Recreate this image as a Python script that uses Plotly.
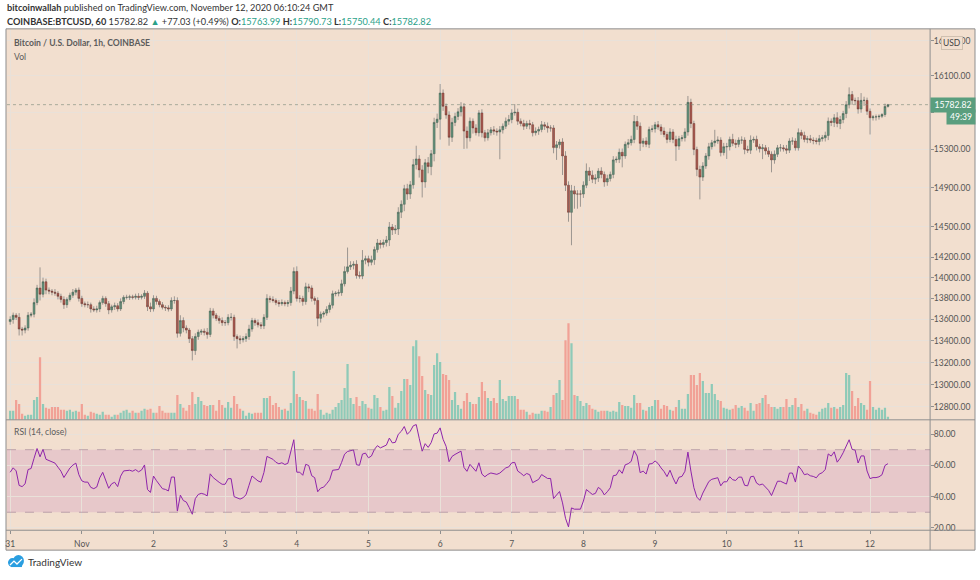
import math
import plotly.graph_objects as go
from datetime import datetime, timedelta

# ---------------- data ----------------
first_open = 13580
closes = [
    13600,13640,13620,13510,13500,13520,13640,13650,13760,13900,13840,13960,13880,13870,13860,13850,13820,13790,13740,13790,13830,13860,13880,13800,
    13750,13740,13740,13700,13690,13700,13760,13800,13750,13690,13720,13730,13700,13770,13810,13810,13815,13810,13820,13810,13820,13850,13720,13700,
    13800,13770,13740,13715,13710,13700,13780,13780,13470,13590,13520,13500,13420,13310,13440,13480,13490,13480,13460,13680,13640,13610,13590,13570,
    13570,13620,13620,13440,13420,13410,13420,13440,13510,13590,13570,13550,13540,13620,13800,13790,13780,13760,13750,13760,13750,13760,13870,14060,
    13800,13800,13770,13911,13900,13800,13780,13611,13650,13660,13695,13735,13845,13850,13855,13940,14060,14105,14120,14130,14020,14015,14170,14185,
    14150,14175,14275,14340,14325,14345,14370,14500,14470,14480,14650,14730,14890,14835,14930,15140,15200,15085,14960,15160,15120,15255,15590,15625,
    15910,15765,15670,15430,15590,15655,15705,15760,15496,15425,15603,15530,15479,15693,15479,15425,15479,15510,15496,15487,15510,15549,15603,15621,
    15693,15700,15603,15578,15549,15578,15565,15479,15496,15514,15565,15549,15530,15530,15320,15350,15380,15232,14926,14648,14869,14835,14835,14835,
    14926,15073,15030,14988,15000,15073,15038,14960,14995,15038,15190,15197,15270,15232,15355,15372,15407,15600,15549,15365,15390,15355,15514,15520,
    15565,15540,15496,15460,15407,15487,15407,15336,15415,15425,15487,15808,15578,15300,15090,15010,15126,15232,15330,15372,15390,15400,15267,15330,
    15330,15407,15365,15355,15400,15400,15300,15293,15400,15407,15330,15308,15318,15285,15250,15190,15250,15318,15318,15308,15293,15390,15390,15318,
    15480,15450,15407,15415,15400,15395,15385,15415,15425,15450,15603,15590,15640,15578,15621,15686,15782,15893,15830,15826,15735,15830,15830,15711,
    15640,15650,15650,15657,15675,15763.99,15782.82,
]
wick_hi = [
    30,25,20,40,20,25,30,20,40,30,200,40,30,25,20,30,20,25,30,20,25,30,20,25,
    25,20,30,20,25,30,20,25,20,25,20,30,25,30,20,25,20,20,25,30,20,30,20,40,
    30,25,20,25,20,25,30,40,30,50,30,25,20,25,30,25,20,25,40,30,25,20,25,30,
    25,30,40,25,20,30,25,30,40,25,20,30,25,30,40,25,30,20,25,30,20,25,40,40,
    50,30,25,40,30,25,20,30,25,20,30,25,30,20,30,40,50,190,40,30,40,40,100,30,
    30,40,30,40,30,30,40,50,30,40,50,40,40,50,40,60,140,40,50,40,60,40,50,60,
    100,40,30,40,50,40,40,50,40,50,40,30,40,30,40,30,40,30,40,30,40,30,40,50,
    40,90,40,30,40,30,40,30,40,30,40,30,40,30,30,40,30,40,50,40,60,50,40,40,
    40,80,40,50,40,30,40,30,40,30,40,30,40,40,30,40,40,70,60,40,30,40,30,40,
    30,40,30,40,30,40,30,40,30,30,40,70,40,30,30,40,40,30,40,30,120,40,30,40,
    40,30,60,40,30,40,30,40,50,30,40,30,40,30,40,30,40,30,40,30,40,30,40,30,
    45,30,40,30,40,30,30,40,30,40,40,30,40,60,40,30,40,80,40,30,40,80,40,30,
    30,20,25,20,15,30,7.91,
]
wick_lo = [
    30,40,25,60,50,30,25,20,30,25,60,30,40,30,30,25,30,30,40,30,20,25,30,30,
    30,25,30,35,20,25,30,20,30,40,25,30,25,20,25,20,25,20,20,25,20,25,40,30,
    25,30,25,20,30,25,20,30,40,30,40,30,40,90,40,30,25,30,40,25,30,25,30,30,
    30,25,30,40,90,40,25,30,30,25,30,25,30,30,25,30,20,25,30,20,25,30,30,30,
    30,40,40,30,40,30,40,75,40,30,25,30,30,25,30,30,25,20,30,40,30,25,30,40,
    40,30,50,30,40,30,40,60,50,40,60,60,70,60,50,40,50,80,160,60,70,90,80,60,
    220,50,40,90,50,40,40,50,190,115,40,60,30,40,50,40,30,30,40,40,290,40,30,40,
    40,30,40,30,40,30,50,40,30,40,30,40,50,40,60,130,40,200,60,95,330,150,150,130,
    40,30,60,40,50,40,40,50,40,30,40,30,40,120,30,40,30,40,40,80,40,30,40,30,
    40,30,40,30,40,30,40,156,40,30,40,40,50,60,70,230,40,30,40,30,40,30,40,30,
    130,40,30,40,30,40,50,30,40,30,40,40,110,40,30,130,40,30,40,30,40,30,40,30,
    30,40,30,40,30,40,30,40,30,40,50,40,50,40,60,40,50,40,50,40,50,40,60,40,
    180,30,40,30,20,25,13.55,
]
volume = [
    9,9,20,16,6,4,5,5,20,23,63,16,12,11,13,13,13,10,10,9,10,8,9,8,
    16,5,4,8,7,6,5,8,5,5,3,5,5,7,9,10,7,9,7,7,9,11,10,11,
    7,7,14,9,7,7,7,7,25,16,12,9,15,28,16,23,19,15,14,15,15,9,20,15,
    12,18,12,24,16,11,9,4,7,6,7,7,7,22,22,24,15,17,13,10,11,9,17,49,
    26,23,20,19,11,11,9,26,10,5,7,6,10,13,17,20,32,56,22,16,23,14,19,16,
    12,11,25,22,13,9,10,33,24,12,17,29,41,41,35,74,80,64,44,30,26,25,55,67,
    58,46,45,40,20,28,15,11,19,27,18,16,16,23,38,29,22,19,22,17,40,21,19,24,
    24,24,21,10,10,8,5,7,6,6,9,9,8,13,25,27,40,20,80,97,77,25,24,19,
    14,17,15,11,10,8,9,9,9,8,9,8,18,15,14,14,12,25,17,17,10,9,13,14,
    20,20,11,15,14,10,9,13,20,11,11,26,45,45,35,47,39,27,27,36,26,20,19,12,
    11,10,11,15,12,14,12,9,17,9,16,17,22,25,16,13,13,11,13,13,21,13,15,22,
    13,16,9,11,7,6,5,8,11,12,17,12,13,11,13,15,47,45,29,14,22,17,15,10,
    39,13,10,12,10,12,3,
]
# RSI(14, close) state at the left edge of the picture (reads about 55 there)
rsi_seed_gain = 25.0
rsi_seed_loss = 20.0
price_ticks = [12800, 13000, 13200, 13400, 13600, 13800, 14000, 14200, 14500, 14900, 15300, 15700, 16100, 16500]
price_labels = ["12800.00", "13000.00", "13200.00", "13400.00", "13600.00", "13800.00", "14000.00",
                "14200.00", "14500.00", "14900.00", "15300.00", "", "16100.00", "16500.00"]
rsi_ticks = [20, 40, 60, 80]
day_ticks = ["2020-10-31", "2020-11-01", "2020-11-02", "2020-11-03", "2020-11-04", "2020-11-05", "2020-11-06",
             "2020-11-07", "2020-11-08", "2020-11-09", "2020-11-10", "2020-11-11", "2020-11-12"]
day_labels = ["31", "Nov", "2", "3", "4", "5", "6", "7", "8", "9", "10", "11", "12"]
last_price = 15782.82

# ---------------- derived ----------------
n = len(closes)
t0 = datetime(2020, 10, 31, 0, 0)
times = [t0 + timedelta(hours=i) for i in range(n)]
opens = [first_open] + closes[:-1]
opens[-1] = 15763.99
body_hi = [max(o, c) for o, c in zip(opens, closes)]
body_lo = [min(o, c) for o, c in zip(opens, closes)]
highs = [b + w for b, w in zip(body_hi, wick_hi)]
lows = [b - w for b, w in zip(body_lo, wick_lo)]

def rsi_calc(c, period=14):
    ag, al = rsi_seed_gain, rsi_seed_loss
    out = [100 - 100 / (1 + ag / al)]
    for i in range(1, len(c)):
        d = c[i] - c[i - 1]
        ag = ag + (max(d, 0) - ag) / period
        al = al + (max(-d, 0) - al) / period
        out.append(100.0 if al == 0 else 100 - 100 / (1 + ag / al))
    return out

rsi = rsi_calc(closes)

W, H = 980, 580
def X(px): return px / W
def Y(py): return 1 - py / H

LEFT, RIGHT = 5, 930
TOP, SEP, BOT = 30, 422, 533
BG = "#f2dfcf"
GRID = "#e9e1d9"
TXT = "#555555"
UP_BODY, UP_LINE = "#5ea985", "#2a4a3a"
DN_BODY, DN_LINE = "#d2493a", "#5a2118"
FONT = "Lato"

fig = go.Figure()

# volume (base axis, drawn first)
vcol = ["#8ecab8" if c >= o else "#f1a196" for o, c in zip(opens, closes)]
fig.add_trace(go.Bar(x=times, y=volume, marker=dict(color=vcol, line=dict(width=0)),
                     xaxis="x", yaxis="y", hoverinfo="skip", showlegend=False))

# wicks
wx, wy = [], []
for t, lo, hi in zip(times, lows, highs):
    wx += [t, t, None]
    wy += [lo, hi, None]
fig.add_trace(go.Scatter(x=wx, y=wy, mode="lines", line=dict(color="rgba(110,110,110,0.65)", width=1),
                         xaxis="x", yaxis="y2", hoverinfo="skip", showlegend=False))

# candle bodies
fig.add_trace(go.Candlestick(x=times, open=opens, high=body_hi, low=body_lo, close=closes,
                             increasing=dict(fillcolor=UP_BODY, line=dict(color=UP_LINE, width=0.45)),
                             decreasing=dict(fillcolor=DN_BODY, line=dict(color=DN_LINE, width=0.45)),
                             whiskerwidth=0, xaxis="x", yaxis="y2", hoverinfo="skip", showlegend=False))

# RSI
fig.add_trace(go.Scatter(x=times, y=rsi, mode="lines", line=dict(color="#8e24aa", width=1),
                         xaxis="x2", yaxis="y3", hoverinfo="skip", showlegend=False))

xr = ["2020-10-30 22:56", "2020-11-12 20:07"]
log_lo, log_hi = 4.10334, 4.22070

shapes = [
    dict(type="rect", xref="paper", yref="paper", x0=X(4), x1=X(975), y0=Y(553), y1=Y(29),
         fillcolor=BG, line=dict(color="#8f8f8f", width=1), layer="below"),
    dict(type="line", xref="paper", yref="paper", x0=X(RIGHT), x1=X(RIGHT), y0=Y(553), y1=Y(29),
         line=dict(color="#8f8f8f", width=1)),
    dict(type="line", xref="paper", yref="paper", x0=X(4), x1=X(975), y0=Y(SEP), y1=Y(SEP),
         line=dict(color="#8f8f8f", width=1)),
    dict(type="line", xref="paper", yref="paper", x0=X(4), x1=X(975), y0=Y(BOT), y1=Y(BOT),
         line=dict(color="#8f8f8f", width=1)),
    # RSI band
    dict(type="rect", xref="paper", yref="y3", x0=X(LEFT), x1=X(RIGHT), y0=30, y1=70,
         fillcolor="rgba(156,39,176,0.12)", line=dict(width=0), layer="below"),
    dict(type="line", xref="paper", yref="y3", x0=X(LEFT), x1=X(RIGHT), y0=70, y1=70,
         line=dict(color="rgba(150,120,140,0.55)", width=1, dash="dash")),
    dict(type="line", xref="paper", yref="y3", x0=X(LEFT), x1=X(RIGHT), y0=30, y1=30,
         line=dict(color="rgba(150,120,140,0.55)", width=1, dash="dash")),
    # last price dotted line
    dict(type="line", xref="paper", yref="y2", x0=X(LEFT), x1=X(RIGHT), y0=last_price, y1=last_price,
         line=dict(color="rgba(120,135,120,0.6)", width=1, dash="dot")),
    # TradingView logo (cloud)
    dict(type="circle", xref="paper", yref="paper", x0=X(6), x1=X(15), y0=Y(570), y1=Y(561),
         fillcolor="#2a9ee0", line=dict(width=0)),
    dict(type="circle", xref="paper", yref="paper", x0=X(11), x1=X(22), y0=Y(570), y1=Y(558),
         fillcolor="#2a9ee0", line=dict(width=0)),
    dict(type="rect", xref="paper", yref="paper", x0=X(9), x1=X(20), y0=Y(570), y1=Y(565),
         fillcolor="#2a9ee0", line=dict(width=0)),
    dict(type="path", xref="paper", yref="paper",
         path=f"M {X(8)},{Y(568)} L {X(12)},{Y(564)} L {X(15)},{Y(567)} L {X(20)},{Y(562)}",
         line=dict(color="white", width=1.3)),
]

ann = []
def txt(x, y, s, size=10, color="#333333", xanchor="left", **kw):
    ann.append(dict(xref="paper", yref="paper", x=X(x), y=Y(y), text=s, showarrow=False,
                    xanchor=xanchor, yanchor="middle", font=dict(family=FONT, size=size, color=color), **kw))

TEAL = "#2aa189"
txt(3, 8, "<b>bitcoinwallah</b> published on TradingView.com, November 12, 2020 06:10:24 GMT", size=9.2)
txt(3, 22, "<b>COINBASE:BTCUSD, 60</b> 15782.82 <span style='color:%s'>▲</span> +77.03 (+0.49%%) "
           "<b>O:</b><span style='color:%s'>15763.99</span> <b>H:</b><span style='color:%s'>15790.73</span> "
           "<b>L:</b><span style='color:%s'>15750.44</span> <b>C:</b><span style='color:%s'>15782.82</span>"
           % (TEAL, TEAL, TEAL, TEAL, TEAL), size=9.2)
txt(10, 43, "<b>Bitcoin / U.S. Dollar, 1h, COINBASE</b>", size=8.6, color="#5c5c5c")
txt(10, 57, "Vol", size=8.6, color="#5c5c5c")
txt(10, 434, "RSI (14, close)", size=8.6, color="#5c5c5c")
txt(24, 565, "TradingView", size=10, color="#333333")
# axis boxes (annotations on a log axis take log10 positions)
ann.append(dict(xref="paper", yref="y2", x=X(952.5), y=math.log10(last_price), text="15782.82", showarrow=False,
                xanchor="center", yanchor="middle", bgcolor="#5a9e7e", borderpad=2,
                font=dict(family=FONT, size=8.6, color="white"), width=40))
ann.append(dict(xref="paper", yref="paper", x=X(961), y=Y(118), text="49:39", showarrow=False,
                xanchor="center", yanchor="middle", bgcolor="#5a9e7e", borderpad=2,
                font=dict(family=FONT, size=8.6, color="white"), width=24))
ann.append(dict(xref="paper", yref="paper", x=X(952), y=Y(43), text="USD", showarrow=False,
                xanchor="center", yanchor="middle", bgcolor=BG, bordercolor="#d0c0b0", borderwidth=1,
                borderpad=1, font=dict(family=FONT, size=8.5, color="#444444")))

axis_font = dict(family=FONT, size=8.5, color=TXT)
fig.update_layout(
    width=W, height=H, margin=dict(l=0, r=0, t=0, b=0),
    paper_bgcolor="white", plot_bgcolor=BG, bargap=0.25, barmode="overlay", boxgap=0.1,
    showlegend=False,
    xaxis=dict(domain=[X(LEFT), X(RIGHT)], range=xr, anchor="y", type="date",
               tickvals=day_ticks, showticklabels=False, showgrid=True, gridcolor=GRID, gridwidth=1,
               zeroline=False, showline=False, rangeslider=dict(visible=False), fixedrange=True),
    yaxis=dict(domain=[Y(SEP), Y(TOP)], range=[0, SEP - TOP], anchor="x", visible=False, fixedrange=True),
    yaxis2=dict(domain=[Y(SEP), Y(TOP)], overlaying="y", anchor="x", side="right", type="log",
                range=[log_lo, log_hi], tickvals=price_ticks, ticktext=price_labels, showgrid=True,
                gridcolor=GRID, gridwidth=1, ticks="outside", ticklen=3, tickcolor="#8f8f8f",
                tickfont=axis_font, ticklabelstandoff=-2, zeroline=False, showline=False, fixedrange=True),
    xaxis2=dict(domain=[X(LEFT), X(RIGHT)], range=xr, anchor="y3", type="date",
                tickvals=day_ticks, ticktext=day_labels, showgrid=True, gridcolor=GRID,
                ticks="outside", ticklen=3, tickcolor="#8f8f8f", tickfont=axis_font,
                ticklabelstandoff=3, zeroline=False, showline=False, fixedrange=True),
    yaxis3=dict(domain=[Y(BOT), Y(SEP)], range=[18.5, 89.1], anchor="x2", side="right",
                tickvals=rsi_ticks, tickformat=".2f", showgrid=True, gridcolor=GRID,
                ticks="outside", ticklen=3, tickcolor="#8f8f8f", tickfont=axis_font,
                ticklabelstandoff=-2, zeroline=False, showline=False, fixedrange=True),
    shapes=shapes, annotations=ann,
)

fig.write_html("out.html", config={"displayModeBar": False},
               post_script="document.body.style.margin='0';document.body.style.overflow='hidden';")
